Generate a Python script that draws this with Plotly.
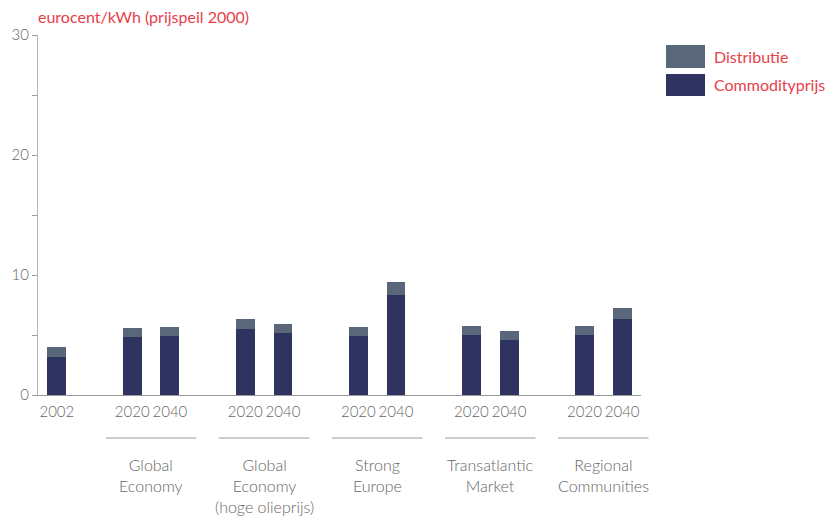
import plotly.graph_objects as go

# Electricity price per scenario, eurocent/kWh (price level 2000)
years = ["2002", "2020", "2040", "2020", "2040", "2020", "2040", "2020", "2040", "2020", "2040"]
commodityprijs = [3.2, 4.85, 4.9, 5.5, 5.15, 4.9, 8.35, 5.0, 4.6, 5.0, 6.35]
distributie = [0.8, 0.75, 0.75, 0.85, 0.75, 0.75, 1.1, 0.75, 0.75, 0.75, 0.9]
scenarios = [
    "Global<br>Economy",
    "Global<br>Economy<br>(hoge olieprijs)",
    "Strong<br>Europe",
    "Transatlantic<br>Market",
    "Regional<br>Communities",
]

COL_DIST = "#5a6679"
COL_COMM = "#2e335f"
RED = "#e8404a"
GREY = "#666666"
FONT = "Lato, Roboto, sans-serif"
WEIGHT = 300

# slot positions: base year at 0, then pairs of bars with one empty slot between groups
xpos = [0] + [p for g in range(len(scenarios)) for p in (2 + 3 * g, 3 + 3 * g)]
XMIN, XMAX = -0.5, 15.5

W, H = 827, 518
ML, MR, MT, MB = 38, 186, 35, 123
PW, PH = W - ML - MR, H - MT - MB


def px_x(x):
    return (x - ML) / PW


def px_y(y):
    return (H - MB - y) / PH


def slot_x(s):
    return (s - XMIN) / (XMAX - XMIN)


def font(color=GREY, size=16, weight=WEIGHT):
    return dict(family=FONT, size=size, color=color, weight=weight)


fig = go.Figure()
fig.add_bar(x=xpos, y=commodityprijs, marker_color=COL_COMM, marker_line_width=0,
            width=0.5, name="Commodityprijs", showlegend=False)
fig.add_bar(x=xpos, y=distributie, marker_color=COL_DIST, marker_line_width=0,
            width=0.5, name="Distributie", showlegend=False)

shapes = []
annotations = []

# group rule and scenario names below the year labels
for g, name in enumerate(scenarios):
    c = 2.5 + 3 * g
    shapes.append(dict(type="line", xref="paper", yref="paper",
                       x0=slot_x(c - 1.2), x1=slot_x(c + 1.2),
                       y0=px_y(438), y1=px_y(438), line=dict(color="#9a9a9a", width=1)))
    annotations.append(dict(x=slot_x(c), y=px_y(453), xref="paper", yref="paper", text=name,
                            showarrow=False, xanchor="center", yanchor="top", font=font()))

# unit label
annotations.append(dict(x=px_x(36), y=px_y(17), xref="paper", yref="paper",
                        text="eurocent/kWh (prijspeil 2000)", showarrow=False,
                        xanchor="left", yanchor="middle", font=font(RED, weight=400)))

# legend swatches
for (label, col, y0, y1) in [("Distributie", COL_DIST, 45, 68),
                              ("Commodityprijs", COL_COMM, 74, 96)]:
    shapes.append(dict(type="rect", xref="paper", yref="paper",
                       x0=px_x(666), x1=px_x(705), y0=px_y(y1), y1=px_y(y0),
                       fillcolor=col, line=dict(width=0)))
    annotations.append(dict(x=px_x(712), y=px_y((y0 + y1) / 2), xref="paper", yref="paper",
                            text=label, showarrow=False, xanchor="left", yanchor="middle",
                            font=font(RED, weight=400)))

fig.update_layout(
    width=W, height=H,
    margin=dict(l=ML, r=MR, t=MT, b=MB),
    barmode="stack",
    plot_bgcolor="white", paper_bgcolor="white",
    shapes=shapes, annotations=annotations,
    font=font(),
)
fig.update_xaxes(
    range=[XMIN, XMAX], tickmode="array", tickvals=xpos, ticktext=years,
    tickangle=0, automargin=False, ticklabelstandoff=3,
    showgrid=False, zeroline=False, showline=True, linecolor="#9a9a9a", linewidth=1,
    ticks="", tickfont=font(size=15),
)
fig.update_yaxes(
    range=[0, 30], dtick=10, showgrid=False, zeroline=False, automargin=False,
    showline=True, linecolor="#b5b5b5", linewidth=1,
    ticks="outside", ticklen=5, tickcolor="#9a9a9a",
    minor=dict(dtick=5, ticks="outside", ticklen=5, tickcolor="#9a9a9a"),
    tickfont=font(size=15),
)

fig.write_html("out.html")
